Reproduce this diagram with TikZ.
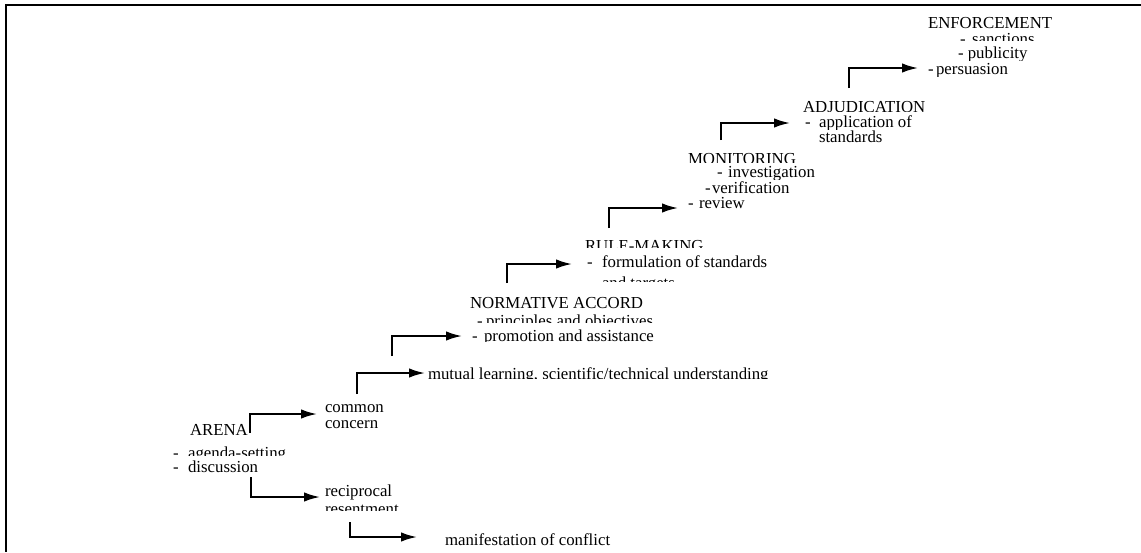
\documentclass[tikz,border=0pt]{standalone}
\usepackage{fontspec}
\setmainfont{Liberation Serif}
\usetikzlibrary{arrows.meta}
\tikzset{
  txt/.style={anchor=base west, inner sep=0pt, outer sep=0pt, font=\fontsize{16.8}{17}\selectfont},
  arr/.style={line width=2pt, -{Latex[length=16pt,width=9.5pt]}},
  frame/.style={line width=2pt}
}
% clipped text line: name, x, baseline, clip bottom, text
\newcommand{\cliptxt}[5]{%
  \begin{scope}
    \clip (#2-12,#3-30) rectangle (#2+520,#4);
    \node[txt] (#1) at (#2,#3) {#5};
  \end{scope}}
\newcommand{\dl}[2]{-\hspace{#1pt}#2}
\begin{document}
\begin{tikzpicture}[x=1pt,y=-1pt]
\useasboundingbox (0,0) rectangle (1141,552);
\draw[frame] (1141,5) -- (6,5) -- (6,552);

% ENFORCEMENT
\node[txt] (enf) at (928,28) {ENFORCEMENT};
\cliptxt{enfA}{960}{44}{40}{\dl{6.5}{sanctions}}
\cliptxt{enfB}{958}{58}{60}{- publicity}
\cliptxt{enfC}{928}{74}{76}{\dl{2.5}{persuasion}}

% ADJUDICATION
\cliptxt{adj}{803}{112}{111}{ADJUDICATION}
\cliptxt{adjA}{805}{127}{129}{\dl{8.5}{application of}}
\node[txt] (adjB) at (819,142) {standards};

% MONITORING
\cliptxt{mon}{688}{164}{162}{MONITORING}
\cliptxt{monA}{717}{177}{179}{\dl{5.5}{investigation}}
\node[txt] (monB) at (705,193) {\dl{1.5}{verification}};
\node[txt] (monC) at (688,208) {\dl{5.5}{review}};

% RULE-MAKING
\cliptxt{rule}{585}{251}{247.5}{RULE-MAKING}
\node[txt] (ruleA) at (587,267) {\dl{9.5}{formulation of standards}};
\cliptxt{ruleB}{602}{288}{281.5}{and targets}

% NORMATIVE ACCORD
\node[txt] (norm) at (470,308) {NORMATIVE ACCORD};
\cliptxt{normA}{477}{326}{322}{\dl{3.5}{principles and objectives}}
\cliptxt{normB}{472}{341}{341}{\dl{6.5}{promotion and assistance}}

% mutual learning
\cliptxt{mut}{428}{379}{378}{mutual learning, scientific/technical understanding}

% common concern
\node[txt] (comA) at (325,412) {common};
\node[txt] (comB) at (325,428) {concern};

% ARENA
\node[txt] (arena) at (190,435) {ARENA};
\cliptxt{arenaA}{173}{458}{455}{\dl{9.5}{agenda-setting}}
\node[txt] (arenaB) at (173,472) {\dl{9.5}{discussion}};

% reciprocal resentment
\node[txt] (recA) at (325,496) {reciprocal};
\cliptxt{recB}{325}{514}{510}{resentment}

% manifestation
\node[txt] (man) at (445,545) {manifestation of conflict};

% connector end points
\coordinate (sEnf) at (849,88);  \coordinate (tEnf) at (918,68);
\coordinate (sAdj) at (721,140); \coordinate (tAdj) at (790,123);
\coordinate (sMon) at (609,228); \coordinate (tMon) at (678,208);
\coordinate (sRule) at (507,283); \coordinate (tRule) at (572,264);
\coordinate (sNorm) at (392,356); \coordinate (tNorm) at (462,336);
\coordinate (sMut) at (357,394); \coordinate (tMut) at (425,373);
\coordinate (sCom) at (250,433); \coordinate (tCom) at (317,414);
\coordinate (sRec) at (251,477); \coordinate (tRec) at (320,497);
\coordinate (sMan) at (350,522); \coordinate (tMan) at (417,537);

\draw[arr] (sEnf) |- (tEnf);
\draw[arr] (sAdj) |- (tAdj);
\draw[arr] (sMon) |- (tMon);
\draw[arr] (sRule) |- (tRule);
\draw[arr] (sNorm) |- (tNorm);
\draw[arr] (sMut) |- (tMut);
\draw[arr] (sCom) |- (tCom);
\draw[arr] (sRec) |- (tRec);
\draw[arr] (sMan) |- (tMan);
\end{tikzpicture}
\end{document}
